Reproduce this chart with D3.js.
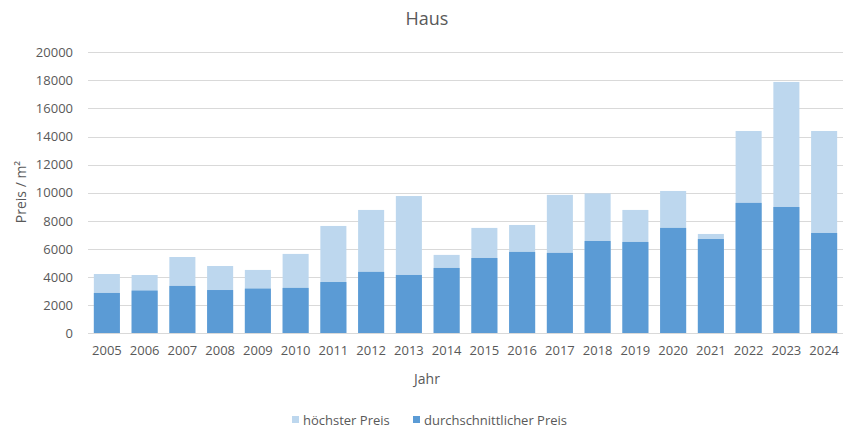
<!DOCTYPE html>
<html><head><meta charset="utf-8">
<script src="https://cdn.jsdelivr.net/npm/d3@7"></script>
<style>body{margin:0;background:#fff}</style>
</head><body>
<svg id="c" width="854" height="432"></svg>
<script>
const years = ["2005","2006","2007","2008","2009","2010","2011","2012","2013","2014","2015","2016","2017","2018","2019","2020","2021","2022","2023","2024"];
const hoechster = [4220,4150,5430,4790,4510,5650,7640,8780,9770,5580,7500,7710,9850,9960,8780,10130,7070,14400,17890,14400];
const durchschnitt = [2870,3040,3370,3080,3180,3230,3650,4370,4150,4650,5360,5790,5720,6570,6500,7500,6710,9280,8990,7140];
const yTicks = [0,2000,4000,6000,8000,10000,12000,14000,16000,18000,20000];

(function(){
const svg = d3.select("#c");
const font = "'Open Sans', sans-serif";
const txt = "#595959";
const pLeft = 88, pRight = 843, pTop = 52.3, pBottom = 333.3;
const x = d3.scaleBand().domain(years).range([pLeft, pRight]).paddingInner(0.31).paddingOuter(0.155);
const y = d3.scaleLinear().domain([0, 20000]).range([pBottom, pTop]);

// grid
svg.append("g").selectAll("line").data(yTicks.slice(1)).join("line")
  .attr("x1", pLeft).attr("x2", pRight)
  .attr("y1", d => Math.round(y(d)) + 0.5).attr("y2", d => Math.round(y(d)) + 0.5)
  .attr("stroke", "#D9D9D9").attr("stroke-width", 1);

// y axis labels
const yAxis = d3.axisLeft(y).tickValues(yTicks).tickSize(0).tickPadding(0).tickFormat(d3.format("d"));
const ya = svg.append("g").attr("transform", `translate(73,0)`).call(yAxis);
ya.select(".domain").remove();
ya.selectAll("text").attr("fill", txt).style("font-family", font).style("font-size", "13px");

// bars
svg.append("g").selectAll("rect").data(years).join("rect")
  .attr("x", d => x(d)).attr("width", x.bandwidth())
  .attr("y", (d, i) => y(hoechster[i])).attr("height", (d, i) => y(0) - y(hoechster[i]))
  .attr("fill", "#BDD7EE");
svg.append("g").selectAll("rect").data(years).join("rect")
  .attr("x", d => x(d)).attr("width", x.bandwidth())
  .attr("y", (d, i) => y(durchschnitt[i])).attr("height", (d, i) => y(0) - y(durchschnitt[i]))
  .attr("fill", "#5B9BD5");

// x axis
const xa = svg.append("g").attr("transform", `translate(0,${Math.round(pBottom)+0.5})`)
  .call(d3.axisBottom(x).tickSize(0).tickPadding(12));
xa.select(".domain").attr("stroke", "#D9D9D9").attr("d", `M${pLeft},0H${pRight}`);
xa.selectAll("text").attr("fill", txt).style("font-family", font).style("font-size", "13px");

// titles
svg.append("text").attr("x", 427).attr("y", 25).attr("text-anchor", "middle")
  .attr("fill", txt).style("font-family", font).style("font-size", "18px").text("Haus");
svg.append("text").attr("x", 427).attr("y", 384).attr("text-anchor", "middle")
  .attr("fill", txt).style("font-family", font).style("font-size", "14px").text("Jahr");
svg.append("text").attr("transform", "translate(26,192) rotate(-90)").attr("text-anchor", "middle")
  .attr("fill", txt).style("font-family", font).style("font-size", "14px").text("Preis / m²");

// legend
const legend = [["höchster Preis", "#BDD7EE", 292], ["durchschnittlicher Preis", "#5B9BD5", 413]];
const lg = svg.append("g");
legend.forEach(([label, color, lx]) => {
  lg.append("rect").attr("x", lx).attr("y", 416).attr("width", 7).attr("height", 7).attr("fill", color);
  lg.append("text").attr("x", lx + 11).attr("y", 424.5).attr("fill", txt)
    .style("font-family", font).style("font-size", "13px").text(label);
});
})();
</script>
</body></html>
